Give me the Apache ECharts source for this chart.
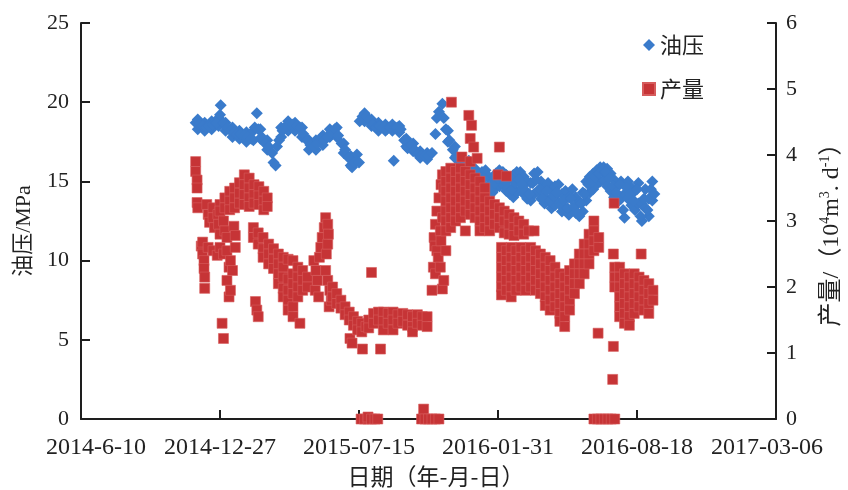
<!DOCTYPE html>
<html>
<head>
<meta charset="utf-8">
<script src="https://cdn.jsdelivr.net/npm/echarts@6/dist/echarts.min.js"></script>
<style>html,body{margin:0;padding:0;background:#fff;}#c{width:848px;height:490px;}</style>
</head>
<body>
<div id="c"></div>
<script>
// x values are days counted from startDate (2014-06-10)
const startDate = '2014-06-10';
const xTickLabels = ['2014-6-10', '2014-12-27', '2015-07-15', '2016-01-31', '2016-08-18', '2017-03-06'];
const pressureTicks = [0, 5, 10, 15, 20, 25];
const productionTicks = [0, 1, 2, 3, 4, 5, 6];

// 油压 (MPa): [day, value]
const pressureMain = [
 [165,18.7],[170,18.6],[175,18.5],[180,18.4],[185,18.5],[190,18.6],[195,18.7],[200,19.2],[201,19.8],[205,18.7],
 [210,18.4],[215,18.2],[220,18.1],[225,18.0],[230,18.0],[235,17.9],[240,17.8],[245,17.7],[250,18.4],[253,19.3],
 [255,18.3],[260,17.8],[265,17.4],[270,17.2],[275,16.8],[277,16.2],[280,16.0],[282,17.2],[285,17.6],[290,18.2],
 [295,18.5],[300,18.6],[305,18.6],[310,18.5],[315,18.4],[320,18.0],[325,17.6],[330,17.3],[335,17.2],[340,17.4],
 [345,17.7],[350,17.6],[355,17.8],[360,18.1],[365,18.3],[370,17.9],[375,17.4],[380,17.0],[385,16.5],[390,15.9],
 [393,16.2],[397,16.7],[400,16.2],[401,18.8],[405,19.1],[410,19.1],[415,18.9],[420,18.6],[425,18.4],[430,18.5],
 [435,18.4],[440,18.3],[445,18.4],[450,16.3],[452,18.4],[455,18.4],[460,18.3],[465,17.6],[470,17.1],[475,17.3],
 [480,17.0],[485,16.7],[490,16.6],[495,16.6],[500,16.6],[505,16.8],[510,18.0],[512,19.0],[515,19.4],[520,19.9],
 [522,19.0],[525,18.3],[530,17.6],[535,17.0],[540,16.6],[545,16.2],[550,16.0],[555,15.8],[560,16.2],[565,15.6],
 [570,15.0],[575,14.8],[576,12.3],[580,15.2],[585,14.7],[590,14.6],[595,14.9],[600,15.2],[605,15.3],[610,15.0],
 [615,14.6],[620,14.5],[625,14.9],[630,15.1],[635,14.8],[640,14.4],[645,14.2],[650,14.9],[655,15.1],[660,14.5],
 [665,14.0],[670,14.4],[675,13.8],[680,14.1],[685,14.3],[690,13.5],[695,13.8],[700,13.3],[705,13.9],[710,13.4],
 [715,13.0],[720,13.6],[725,14.2],[730,14.8],[735,15.0],[740,15.3],[745,15.5],[750,15.7],[755,15.6],[760,15.2],
 [765,14.7],[770,14.3],[775,14.8],[780,13.2],[785,14.6],[790,14.2],[795,13.8],[800,14.5],[805,12.8],[810,13.9],
 [815,13.2],[820,14.5],[825,14.2]
];
// 油压 band edges: [day, lower, upper]
const pressureBandRows = [
 [168,18.3,18.9],[178,18.2,18.7],[188,18.3,18.8],[198,18.5,19.0],[208,18.2,18.7],[218,17.8,18.4],[228,17.7,18.2],
 [238,17.5,18.1],[248,17.6,18.2],[258,17.7,18.3],[268,17.0,17.6],[288,17.8,18.4],[298,18.2,18.8],[308,18.2,18.7],
 [318,17.8,18.4],[328,17.0,17.6],[338,17.0,17.6],[348,17.3,17.9],[358,17.8,18.3],[368,17.8,18.4],[378,16.8,17.4],
 [388,16.0,16.6],[408,18.8,19.3],[418,18.5,18.9],[428,18.2,18.7],[438,18.2,18.6],[448,18.2,18.6],[458,18.1,18.5],
 [468,17.2,17.7],[478,16.9,17.4],[488,16.5,16.9],[498,16.4,16.8],[528,17.5,18.2],[538,16.5,17.2],[548,15.8,16.4],
 [558,15.6,16.3],
 [567,14.9,15.8],[572,14.6,15.5],[577,14.5,15.6],[582,14.6,15.7],[587,14.4,15.3],[592,14.3,15.2],[597,14.6,15.5],
 [602,14.7,15.7],[607,14.8,15.6],[612,14.4,15.4],[617,14.2,15.2],[622,14.0,15.4],[627,14.3,15.6],[632,14.5,15.6],
 [637,14.2,15.3],[642,13.9,15.0],[647,13.8,14.9],[652,14.2,15.5],[657,14.4,15.6],[662,13.9,15.0],[667,13.6,14.6],
 [672,13.8,14.9],[677,13.3,14.4],[682,13.5,14.7],[687,13.7,14.8],[692,13.1,14.2],[697,13.2,14.4],[702,12.9,14.0],
 [707,13.3,14.5],[712,13.0,14.0],[717,12.8,13.7],[722,13.1,14.3],[727,13.8,15.0],[732,14.3,15.3],[737,14.5,15.5],
 [742,14.8,15.7],[747,15.0,15.9],[752,15.1,15.9],[757,14.7,15.8],[762,14.4,15.5],[767,14.0,15.1],[772,13.7,14.8],
 [777,13.9,15.0],[782,12.7,14.2],[787,13.9,15.0],[792,13.5,14.6],[797,13.2,14.4],[802,13.6,14.9],[807,12.5,13.6],
 [812,13.3,14.5],[817,12.8,13.9],[822,13.8,15.0]
];

// 产量 (10^4 m^3/d): rows of [day, value, value, ...]
const production2014 = [
 [165,3.9,3.75],[167,3.62,3.5,3.28],[168,3.2],[173,2.62],[175,2.5,2.68],[177,2.4,2.28],[178,2.15,1.98],
 [181,3.25],[183,3.1,2.6],[185,2.98],[190,3.2,3.05,2.55],[192,2.9],[196,2.48],[197,3.1],[198,2.95],
 [200,3.25,3.15,2.8,2.6],[203,1.45],[205,3.0,2.5,1.22],[207,3.35,3.2,2.85],[210,2.75,2.55,2.1],[213,2.3,1.85],
 [214,3.45,3.3,3.17],[215,2.4,1.95],[218,2.25],[220,2.92],[221,3.5,3.35,3.2],[222,2.78,2.6],[228,3.58,3.42,3.27],
 [235,3.7,3.55,3.4,3.25],[242,3.65,3.5,3.35,3.22],[248,2.9,2.75],[249,3.55,3.4,3.27],[251,1.78],[253,1.65],
 [255,2.82,2.65,1.55],[256,3.52,3.38,3.25],[262,2.75,2.58,2.45],[263,3.45,3.3,3.17],[268,3.35,3.22],
 [270,2.65,2.5,2.35],[277,2.58,2.42,2.28],[284,2.5,2.35,2.2,2.05],[291,2.45,2.3,2.15,1.98,1.85],
 [298,2.42,2.12,1.95,1.8,1.65],[305,2.4,2.2,2.05,1.9,1.7,1.55],[312,2.3,2.15,2.0,1.85],[315,1.45],
 [319,2.25,2.1,1.95],[326,2.15,2.0]
];
const production2015 = [
 [335,2.4],[337,1.95],[338,2.25],[340,2.1],[342,1.85],[343,2.45],[345,2.6],[347,2.75],[350,2.9],[352,3.05,2.25],
 [353,2.5],[355,2.95,2.65,2.1],[356,2.8],[357,1.7],[358,1.95],[360,1.8],[362,2.0,1.85],[368,1.9,1.75],
 [374,1.8,1.68],[380,1.7,1.58],[386,1.62,1.5],[387,1.22],[390,1.15],[392,1.55,1.42],[398,1.48,1.35],
 [404,1.45,1.32],[405,1.06],[410,1.4],
 [403,0],[408,0],[413,0,0.03],[418,0,2.22],[423,0],[427,0],
 [414,1.5,1.38],[421,1.6,1.45],[428,1.62,1.5],[431,1.06],[435,1.62,1.48,1.35],[442,1.6,1.45],
 [449,1.62,1.5,1.35],[456,1.58,1.45],[463,1.6,1.48],[470,1.58,1.42],[477,1.55,1.4,1.32],[484,1.58,1.45],
 [491,1.55,1.42],[498,1.55,1.4],
 [490,0],[493,0.15],[495,0],[500,0],[505,0],[510,0],[515,0]
];
const production2016a = [
 [505,1.95],[507,2.3],[508,2.75],[509,2.62],[510,2.2,2.95],[512,2.55,3.15],[514,2.45],[515,3.35],[517,2.85,2.3],
 [518,3.55,2.7],[520,3.7,3.05,1.97],[522,3.5,2.1],[525,3.75,3.6,3.45,3.3,3.15,3.0,2.85,2.55],
 [533,4.8],[532,3.8,3.65,3.5,3.35,3.2,3.05,2.9],[539,3.75,3.6,3.45,3.3,3.15,3.0],[546,3.8,3.65,3.5,3.35,3.2,3.05],
 [548,3.97],[553,3.75,3.6,3.45,3.3,3.15,2.85],[558,4.6],[560,3.7,3.55,3.4,3.25,3.1,4.25,3.9],[562,4.45],
 [565,4.12],[567,3.65,3.5,3.35,3.2,3.05],[570,3.95],[574,3.6,3.45,3.3,3.15,3.0,2.85],[581,3.5,3.35,3.2,3.05,2.9],
 [588,3.3,3.15,3.0,2.85],[595,3.25,3.1,2.95],[600,3.7],[602,4.12,3.2,3.05,2.9],[609,3.15,3.0,2.82],[612,3.68],
 [616,3.1,2.95,2.8],[623,3.05,2.9,2.78],[630,3.0,2.85],[637,2.95,2.8],[644,2.85],[652,2.85]
];
const production2016b = [
 [605,2.6,2.45,2.3,2.15,2.0,1.88],[612,2.55,2.4,2.25,2.1,1.95],[619,2.6,2.45,2.3,2.15,2.0,1.85],
 [626,2.55,2.4,2.25,2.1,1.95],[633,2.6,2.45,2.3,2.15,2.0],[640,2.55,2.4,2.25,2.1,1.95],[647,2.6,2.45,2.3,2.15,2.0],
 [654,2.55,2.4,2.25,2.1,1.95],[661,2.5,2.35,2.2,2.05,1.9],[668,2.45,2.3,2.15,2.0,1.85,1.72],
 [675,2.4,2.25,2.1,1.95,1.8,1.65],[682,2.3,2.15,2.0,1.85,1.7],[689,2.2,2.05,1.9,1.75,1.6,1.48],
 [696,2.15,2.0,1.85,1.7,1.55,1.4],[703,2.25,2.1,1.95,1.8,1.65],[710,2.35,2.2,2.05,1.9],[717,2.5,2.35,2.2,2.05],
 [724,2.65,2.5,2.35,2.2],[731,2.8,2.65,2.5,2.35],[738,3.0,2.85,2.7,2.55,0],[743,0],[744,1.3],[745,2.75,2.6],
 [748,0],[753,0],[758,0],[763,0],[765,0.6],[766,1.1,2.5],[767,3.27],[768,2.3,2.15,2.0,0],
 [775,2.3,2.15,2.0,1.85,1.7,1.55],[782,2.2,2.05,1.9,1.75,1.6,1.45],[789,2.15,2.0,1.85,1.7,1.55,1.42],
 [796,2.2,2.05,1.9,1.75,1.6],[803,2.15,2.0,1.85,1.7],[806,2.5],[810,2.1,1.95,1.8,1.65],[817,2.05,1.9,1.75,1.6],
 [823,1.95,1.8]
];

function expandRows(rows) {
  const out = [];
  rows.forEach(r => { for (let i = 1; i < r.length; i++) out.push([r[0], r[i]]); });
  return out;
}
const productionData = [].concat(
  expandRows(production2014), expandRows(production2015),
  expandRows(production2016a), expandRows(production2016b));
const pressureData = expandRows(pressureBandRows).concat(pressureMain);

const serif = "'Liberation Serif','Noto Sans CJK SC',serif";
const cjk = "'Noto Sans CJK SC','Liberation Serif',sans-serif";
const axisColor = '#1e1e1e';
const chart = echarts.init(document.getElementById('c'), null, {renderer: 'canvas'});
const last = xTickLabels.length - 1;
chart.setOption({
  animation: false,
  backgroundColor: '#fff',
  grid: {left: 81, right: 72, top: 23, bottom: 71, containLabel: false, outerBoundsMode: 'none'},
  legend: {
    data: ['油压', '产量'], orient: 'vertical', left: 637, top: 28, itemGap: 20,
    itemWidth: 12, itemHeight: 12,
    textStyle: {fontSize: 22, lineHeight: 24, color: '#222', fontFamily: cjk}
  },
  xAxis: {
    type: 'value', min: 0, max: 1000, interval: 200,
    name: '日期（年-月-日）', nameLocation: 'middle', nameGap: 46,
    nameTextStyle: {fontSize: 23, color: '#222', fontFamily: cjk, padding: [0, 0, 0, 15]},
    axisLine: {lineStyle: {color: axisColor, width: 2}},
    axisTick: {inside: true, length: 9, lineStyle: {color: axisColor, width: 2}},
    splitLine: {show: false},
    axisLabel: {
      margin: 17, color: '#222', fontSize: 24, fontFamily: serif,
      showMinLabel: true, showMaxLabel: true,
      formatter: function (v) {
        const i = Math.round(v / 200);
        if (i === 0) return '{first|' + xTickLabels[i] + '}';
        if (i === last) return '{lastl|' + xTickLabels[i] + '}';
        return xTickLabels[i];
      },
      rich: {
        first: {fontSize: 24, fontFamily: serif, color: '#222', padding: [0, 0, 0, 30]},
        lastl: {fontSize: 24, fontFamily: serif, color: '#222', padding: [0, 18, 0, 0]}
      }
    }
  },
  yAxis: [{
    type: 'value', min: pressureTicks[0], max: pressureTicks[pressureTicks.length - 1], interval: 5,
    name: '油压/MPa', nameLocation: 'middle', nameRotate: 90, nameGap: 46,
    nameTextStyle: {fontSize: 22, color: '#222', fontFamily: serif, padding: [0, 20, 0, 0]},
    axisLine: {show: true, lineStyle: {color: axisColor, width: 2}},
    axisTick: {show: true, inside: true, length: 9, lineStyle: {color: axisColor, width: 2}},
    splitLine: {show: false},
    axisLabel: {margin: 12, color: '#222', fontSize: 22, fontFamily: serif}
  }, {
    type: 'value', position: 'right', min: productionTicks[0], max: productionTicks[productionTicks.length - 1], interval: 1,
    name: '{t|产量/（10}{s|4}{t|m}{s|3}{t|. d}{s|-1}{t|）}', nameLocation: 'middle', nameRotate: 90, nameGap: 42,
    nameTextStyle: {
      fontSize: 24, color: '#222', fontFamily: serif, padding: [0, 16, 0, 0],
      rich: {
        t: {fontSize: 24, color: '#222', fontFamily: serif, lineHeight: 28},
        s: {fontSize: 14, color: '#222', fontFamily: serif, verticalAlign: 'top', lineHeight: 28}
      }
    },
    axisLine: {show: true, lineStyle: {color: axisColor, width: 2}},
    axisTick: {show: true, inside: true, length: 9, lineStyle: {color: axisColor, width: 2}},
    splitLine: {show: false},
    axisLabel: {margin: 10, color: '#222', fontSize: 22, fontFamily: serif}
  }],
  series: [{
    name: '油压', type: 'scatter', yAxisIndex: 0, symbol: 'diamond', symbolSize: 12,
    itemStyle: {color: '#3a7bcb', opacity: 1}, data: pressureData, z: 2
  }, {
    name: '产量', type: 'scatter', yAxisIndex: 1, symbol: 'rect', symbolSize: 10,
    itemStyle: {color: '#c63436', opacity: 1, borderColor: '#d65c5c', borderWidth: 0.6}, data: productionData, z: 3
  }]
});
</script>
</body>
</html>
